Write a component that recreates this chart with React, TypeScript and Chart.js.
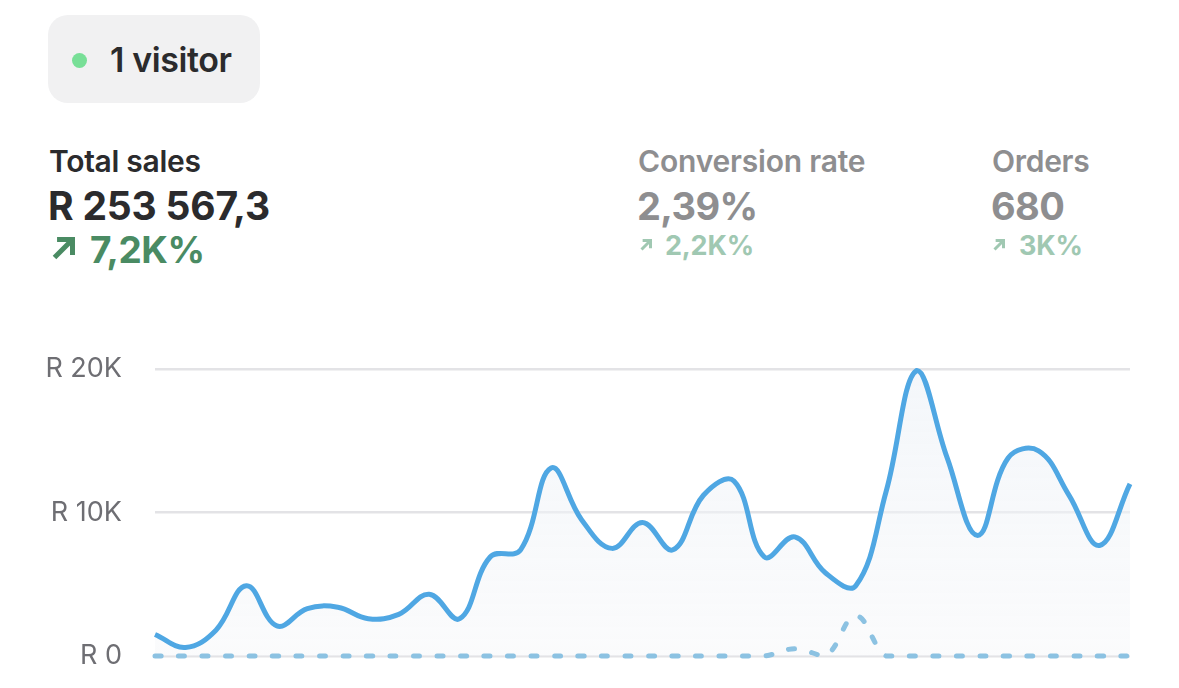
import React, { useEffect, useRef } from "react";
import Chart from "chart.js/auto";

const labels: string[] = [
  "1", "2", "3", "4", "5", "6", "7", "8", "9", "10", "11",
  "12", "13", "14", "15", "16", "17", "18", "19", "20", "21", "22",
  "23", "24", "25", "26", "27", "28", "29", "30", "31", "32", "33",
];

const salesCurrent: number[] = [
  1500, 600, 1800, 4900, 2100, 3300, 3400, 2600, 2900, 4300, 2600,
  6900, 7400, 13100, 9500, 7500, 9300, 7400, 11200, 12200, 6900, 8300,
  5800, 4900, 11500, 19900, 13800, 8400, 13800, 14300, 11200, 7700, 12000,
];

const salesPrevious: number[] = [
  0, 0, 0, 0, 0, 0, 0, 0, 0, 0, 0,
  0, 0, 0, 0, 0, 0, 0, 0, 0, 0, 500,
  0, 2800, 0, 0, 0, 0, 0, 0, 0, 0, 0,
];

const yTicks: number[] = [0, 10000, 20000];

const FONT = "Inter, 'Noto Sans', sans-serif";

function Arrow({ x, y, size, stroke, color }: { x: number; y: number; size: number; stroke: number; color: string }) {
  const s = size;
  const h = stroke / 2;
  return (
    <svg
      style={{ position: "absolute", left: x, top: y, overflow: "visible" }}
      width={s}
      height={s}
      viewBox={`0 0 ${s} ${s}`}
    >
      <path
        d={`M ${h} ${s - h} L ${s - h} ${h} M ${s * 0.22} ${h} L ${s - h} ${h} L ${s - h} ${s * 0.78}`}
        stroke={color}
        strokeWidth={stroke}
        fill="none"
        strokeLinecap="butt"
        strokeLinejoin="miter"
      />
    </svg>
  );
}

function SalesChart() {
  const ref = useRef<HTMLCanvasElement | null>(null);
  useEffect(() => {
    if (!ref.current) return;
    const chart = new Chart(ref.current, {
      type: "line",
      data: {
        labels,
        datasets: [
          {
            label: "Previous",
            data: salesPrevious,
            borderColor: "#8cc2e2",
            borderWidth: 5,
            borderDash: [6, 17.5],
            borderCapStyle: "round",
            pointRadius: 0,
            tension: 0.4,
            fill: false,
            clip: false as any,
          },
          {
            label: "Total sales",
            data: salesCurrent,
            borderColor: "#4fa7e3",
            borderWidth: 5,
            pointRadius: 0,
            tension: 0.4,
            fill: "origin",
            clip: false as any,
            backgroundColor: (ctx: any) => {
              const area = ctx.chart.chartArea;
              if (!area) return "rgba(240,243,247,0.5)";
              const g = ctx.chart.ctx.createLinearGradient(0, area.top, 0, area.bottom);
              g.addColorStop(0, "rgba(236,241,247,0.6)");
              g.addColorStop(1, "rgba(246,247,249,0.5)");
              return g;
            },
          },
        ],
      },
      options: {
        animation: false,
        responsive: false,
        maintainAspectRatio: false,
        layout: { padding: { top: 39, bottom: 32, left: 0, right: 49 } },
        plugins: { legend: { display: false }, tooltip: { enabled: false } },
        scales: {
          x: { display: false, offset: false },
          y: {
            min: 0,
            max: 20000,
            afterBuildTicks: (scale: any) => {
              scale.ticks = yTicks.map((v) => ({ value: v }));
            },
            afterFit: (scale: any) => {
              scale.width = 155;
              scale.paddingTop = 0;
              scale.paddingBottom = 0;
            },
            border: { display: false },
            grid: { color: "#e3e3e6", lineWidth: 2.5, drawTicks: false },
            ticks: {
              padding: 33,
              color: "#6e6e73",
              font: { family: FONT, size: 27, weight: "400" as any },
              callback: (v: any) => (v === 0 ? "R 0" : `R ${Number(v) / 1000}K`),
            },
          },
        },
      },
    });
    return () => chart.destroy();
  }, []);
  return <canvas ref={ref} width={1179} height={358} style={{ position: "absolute", left: 0, top: 330, width: 1179, height: 358 }} />;
}

export default function App() {
  const txt = (s: React.CSSProperties): React.CSSProperties => ({
    position: "absolute",
    lineHeight: 1,
    fontFamily: FONT,
    whiteSpace: "nowrap",
    margin: 0,
    ...s,
  });
  return (
    <div style={{ position: "fixed", left: 0, top: 0, width: 1179, height: 688, background: "#fff", overflow: "hidden" }}>
      <div style={{ position: "absolute", left: 48, top: 15, width: 212, height: 88, borderRadius: 20, background: "#f1f1f2" }} />
      <div style={{ position: "absolute", left: 72, top: 53, width: 15, height: 15, borderRadius: "50%", background: "#78df97" }} />
      <div style={txt({ left: 110, top: 43, fontSize: 34, fontWeight: 600, color: "#2b2b2d", letterSpacing: -0.4 })}>1 visitor</div>

      <div style={txt({ left: 49, top: 146, fontSize: 30, fontWeight: 600, color: "#2b2b2d", letterSpacing: -0.3 })}>Total sales</div>
      <div style={txt({ left: 48, top: 186, fontSize: 39, fontWeight: 700, color: "#2b2b2d", letterSpacing: -0.2 })}>R 253 567,3</div>
      <Arrow x={52} y={237} size={23} stroke={5} color="#4a8b63" />
      <div style={txt({ left: 90, top: 231, fontSize: 37, fontWeight: 700, color: "#4a8b63", letterSpacing: -0.4 })}>7,2K%</div>

      <div style={txt({ left: 638, top: 146, fontSize: 30, fontWeight: 600, color: "#8e8e90", letterSpacing: -0.2 })}>Conversion rate</div>
      <div style={txt({ left: 637, top: 187, fontSize: 38, fontWeight: 700, color: "#8e8e90", letterSpacing: -0.6 })}>2,39%</div>
      <Arrow x={640} y={239} size={12} stroke={3} color="#a0c8b2" />
      <div style={txt({ left: 665, top: 232, fontSize: 27, fontWeight: 700, color: "#a0c8b2", letterSpacing: -0.2 })}>2,2K%</div>

      <div style={txt({ left: 992, top: 146, fontSize: 30, fontWeight: 600, color: "#8e8e90", letterSpacing: -0.3 })}>Orders</div>
      <div style={txt({ left: 991, top: 187, fontSize: 38, fontWeight: 700, color: "#8e8e90", letterSpacing: -0.6 })}>680</div>
      <Arrow x={993} y={239} size={12} stroke={3} color="#a0c8b2" />
      <div style={txt({ left: 1019, top: 232, fontSize: 27, fontWeight: 700, color: "#a0c8b2", letterSpacing: -0.2 })}>3K%</div>

      <SalesChart />
    </div>
  );
}
